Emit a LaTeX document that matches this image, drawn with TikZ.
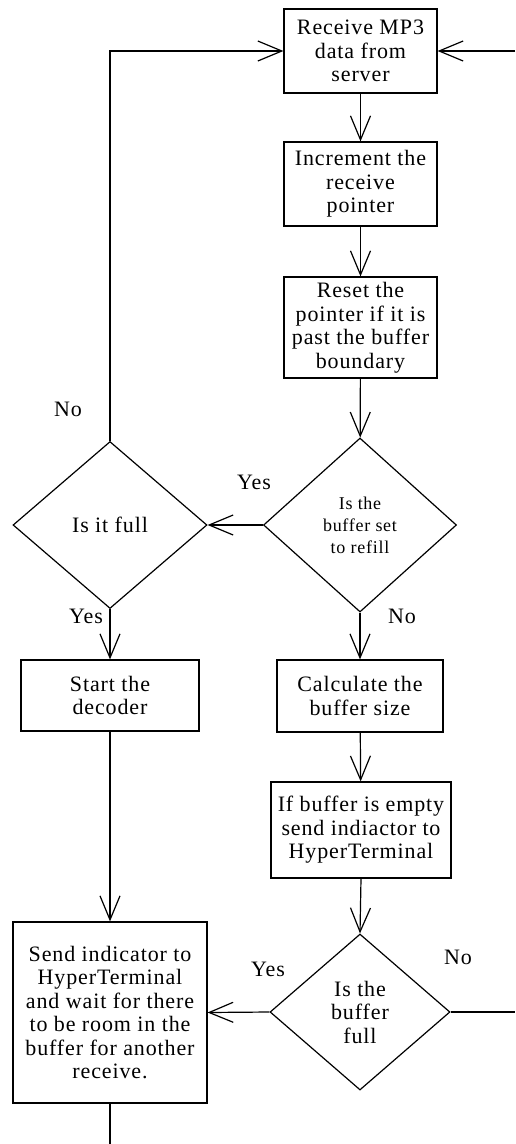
\documentclass[tikz,border=0pt]{standalone}
\usepackage{fontspec}
\newfontfamily\flowfont{Liberation Serif}[LetterSpace=4]
\usetikzlibrary{shapes.geometric,arrows.meta}
\begin{document}
\begin{tikzpicture}[x=1pt,y=-1pt,
  font=\flowfont\fontsize{22}{23.5}\selectfont,
  line width=1.2pt,
  stepbox/.style={draw,rectangle,align=center,inner sep=0pt},
  decision/.style={draw,diamond,align=center,inner sep=0pt},
  flow/.style={-{Straight Barb[length=24pt,width=20pt,line width=1.2pt]}},
  lbl/.style={inner sep=0pt}]
\useasboundingbox (0,0) rectangle (515,1144);

% process boxes
\node[stepbox,minimum width=153,minimum height=84] (recv) at (360.5,51) {Receive MP3\\data from\\server};
\node[stepbox,minimum width=153,minimum height=84] (incr) at (360.5,184) {Increment the\\receive\\pointer};
\node[stepbox,minimum width=153,minimum height=101] (reset) at (360.5,327.5) {Reset the\\pointer if it is\\past the buffer\\boundary};
\node[stepbox,minimum width=178,minimum height=71] (start) at (110,695.5) {Start the\\decoder};
\node[stepbox,minimum width=166,minimum height=72] (calc) at (360,696) {Calculate the\\buffer size};
\node[stepbox,minimum width=180,minimum height=96] (empty) at (361,830) {If buffer is empty\\send indiactor to\\HyperTerminal};
\node[stepbox,minimum width=194,minimum height=181] (send) at (110,1012.5) {Send indicator to\\HyperTerminal\\and wait for there\\to be room in the\\buffer for another\\receive.};

% decisions
\node[decision,minimum width=193,minimum height=174,font=\flowfont\fontsize{18}{22}\selectfont] (refill) at (360,525) {Is the\\buffer set\\to refill};
\node[decision,minimum width=194,minimum height=167] (isfull) at (110,525) {Is it full};
\node[decision,minimum width=180,minimum height=156] (buffull) at (360,1012) {Is the\\buffer\\full};

% loose ends at the picture edges
\coordinate (rtop) at (515,51);
\coordinate (rbot) at (515,1012);
\coordinate (bot) at (110,1144);

% connectors
\draw[flow] (recv) -- (incr);
\draw[flow] (incr) -- (reset);
\draw[flow] (reset) -- (refill);
\draw[flow] (refill.west) -- (isfull.east);
\draw[flow] (isfull.north) |- (recv.west);
\draw[flow] (isfull.south) -- (start.north);
\draw[flow] (refill.south) -- (calc.north);
\draw[flow] (calc) -- (empty);
\draw[flow] (empty.south) -- (buffull.north);
\draw[flow] (buffull.west) -- (send.east);
\draw (buffull.east) -- (rbot);
\draw[flow] (rtop) -- (recv.east);
\draw[flow] (start.south) -- (send.north);
\draw (send.south) -- (bot);

% branch labels
\node[lbl] (l1) at (68,409) {No};
\node[lbl] (l2) at (254,482) {Yes};
\node[lbl] (l3) at (86,616) {Yes};
\node[lbl] (l4) at (402,616) {No};
\node[lbl] (l5) at (268,969) {Yes};
\node[lbl] (l6) at (458,957) {No};
\end{tikzpicture}
\end{document}
